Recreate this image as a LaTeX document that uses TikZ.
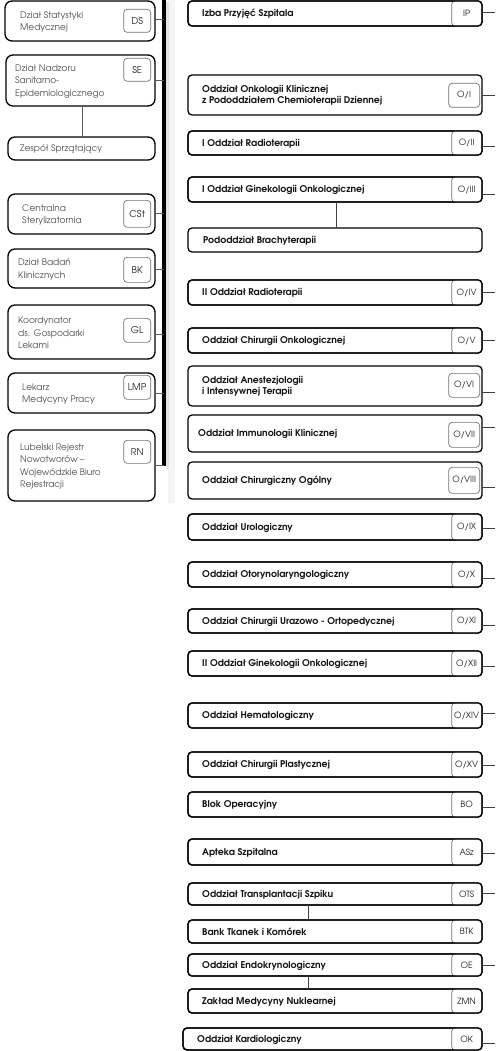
\documentclass[tikz,border=0pt]{standalone}
\usepackage{fontspec}
\setmainfont{texgyreadventor}[Extension=.otf, UprightFont=*-regular, BoldFont=*-bold, ItalicFont=*-italic, BoldItalicFont=*-bolditalic]
\newcommand\RB[7]{% name, y1, y2, text, tag, conn y, text x
  \node[rbox, minimum height={#3-#2}] (#1) at (188,#2) {};
  \node[rtag, minimum height={#3-#2}] (#1t) at (#1.east) {#5};
  \draw[rline] (#1.south west) rectangle (#1.north east);
  \node[rtext] (#1x) at (#7,{(#2+#3)/2+0.5}) {#4};
  \coordinate (#1c) at (495,#6);
  \draw[conn] (#1.east |- #1c) -- (#1c);
}
\newcommand\RBT[8]{% name, y1, y2, text, tag, tag y1, tag y2, conn y
  \node[rbox, minimum height={#3-#2}] (#1) at (188,#2) {};
  \node[rtagi, minimum height={#7-#6}] (#1t) at (480,#6) {#5};
  \node[rtext] (#1x) at (202,{(#2+#3)/2+0.5}) {#4};
  \coordinate (#1c) at (495,#8);
  \draw[conn] (#1.east |- #1c) -- (#1c);
}
\newcommand\LB[9]{% name, x1, y1, y2, text x, text, tag, tag y1, tag y2
  \node[lbox, minimum width={155-#2}, minimum height={#4-#3}] (#1) at (#2,#3) {};
  \node[ltext] (#1x) at (#5,{(#3+#4)/2+1}) {#6};
  \node[ltag, minimum height={#9-#8}] (#1t) at (151,#8) {#7};
}
\begin{document}
\begin{tikzpicture}[x=1pt,y=-1pt,
  lbox/.style={draw=black, line width=1.3pt, rounded corners=7pt, fill=white, anchor=north west, outer sep=0pt, inner sep=0pt},
  ltext/.style={anchor=west, align=left, inner sep=0pt, text=black!68, font=\fontsize{9}{12.5}\selectfont},
  ltag/.style={draw=black!55, line width=0.7pt, rounded corners=3.5pt, fill=white, anchor=north east, minimum width=27pt, inner sep=0pt, text=black!85, font=\fontsize{9.4}{9}\selectfont},
  rbox/.style={draw=black, line width=1.3pt, rounded corners=4pt, fill=white, anchor=north west, minimum width=294pt, outer sep=0pt, inner sep=0pt},
  rline/.style={draw=black, line width=1.3pt, rounded corners=4pt},
  rtext/.style={anchor=west, align=left, inner sep=0pt, text=black!92, font=\bfseries\fontsize{9.3}{11}\selectfont},
  rtag/.style={draw=black!55, line width=0.7pt, rounded corners=3.5pt, fill=white, anchor=east, minimum width=30pt, inner sep=0pt, text=black!88, font=\fontsize{8.6}{8}\selectfont},
  rtagi/.style={rtag, anchor=north east, minimum width=31pt},
  conn/.style={draw=black!75, line width=0.9pt},
  lconn/.style={draw=black!65, line width=0.9pt}
]
\useasboundingbox (0,0) rectangle (495,1051);
\fill[black!4] (168,0) rectangle (175,503);

% vertical bar
\coordinate (bartop) at (164,0);
\coordinate (barbot) at (164,466);
\fill[black!10] (166,2) rectangle (169,469);
\draw[line width=3.8pt] (bartop) -- (barbot);

% left column
\LB{DS}{5}{1}{41}{20}{Dział Statystyki\\Medycznej}{DS}{9}{32}
\LB{SE}{6}{55}{106}{15}{Dział Nadzoru\\Sanitarno-\\Epidemiologicznego}{SE}{58}{81}
\node[lbox, minimum width=147pt, minimum height=23pt] (ZS) at (8,137) {};
\node[ltext] (ZSx) at (20,149.5) {Zespół Sprzątający};
\LB{CSt}{8}{194}{234}{22}{Centralna\\Sterylizatornia}{CSt}{200}{227}
\LB{BK}{8}{249}{288}{18}{Dział Badań\\Klinicznych}{BK}{257}{282}
\LB{GL}{8}{305}{359}{18}{Koordynator\\ds. Gospodarki\\Lekami}{GL}{318}{342}
\LB{LMP}{8}{373}{413}{22}{Lekarz\\Medycyny Pracy}{LMP}{375}{399}
\LB{RN}{8}{430}{501}{20}{Lubelski Rejestr\\Nowotworów –\\Wojewódzkie Biuro\\Rejestracji}{RN}{440}{463}

\draw[lconn] (SE.south -| 82,0) -- (ZS.north -| 82,0);
\draw[lconn] (DS.east |- 0,19) -- (bartop |- 0,19);
\draw[lconn] (SE.east |- 0,80) -- (bartop |- 0,80);
\draw[lconn] (CSt.east |- 0,213) -- (bartop |- 0,213);
\draw[lconn] (BK.east |- 0,269) -- (bartop |- 0,269);
\draw[lconn] (GL.east |- 0,334) -- (bartop |- 0,334);
\draw[lconn] (LMP.east |- 0,393) -- (bartop |- 0,393);
\draw[lconn] (RN.east |- 0,465) -- (bartop |- 0,465);

% right column
\RB{IP}{1}{26}{Izba Przyjęć Szpitala}{IP}{12}{202}
\RBT{OI}{75}{115}{Oddział Onkologii Klinicznej\\z Pododdziałem Chemioterapii Dziennej}{O/I}{83}{107}{95}
\RB{OII}{131}{155}{I Oddział Radioterapii}{O/II}{146}{202}
\RB{OIII}{177}{202}{I Oddział Ginekologii Onkologicznej}{O/III}{194}{202}
\node[rbox, minimum height=24pt] (PB) at (188,228) {};
\node[rtext] (PBx) at (203,240.5) {Pododdział Brachyterapii};
\draw[conn] (OIII.south -| 336,0) -- (PB.north -| 336,0);
\RB{OIV}{280}{305}{II Oddział Radioterapii}{O/IV}{292}{202}
\RB{OV}{328}{353}{Oddział Chirurgii Onkologicznej}{O/V}{340}{202}
\RBT{OVI}{366}{406}{Oddział Anestezjologii\\i Intensywnej Terapii}{O/VI}{373}{397}{392}
\node[rbox, minimum height=37pt] (OVII) at (188,415) {};
\node[rtagi, minimum height=25pt] (OVIIt) at (480,422) {O/VII};
\node[rtext] (OVIIx) at (198,434) {Oddział Immunologii Klinicznej};
\coordinate (OVIIc) at (495,427);
\draw[conn] (OVII.east |- OVIIc) -- (OVIIc);
\RBT{OVIII}{462}{499}{Oddział Chirurgiczny Ogólny}{O/VIII}{467}{493}{487}
\RB{OIX}{514}{540}{Oddział Urologiczny}{O/IX}{528}{202}
\RB{OX}{562}{587}{Oddział Otorynolaryngologiczny}{O/X}{578}{202}
\RB{OXI}{609}{633}{Oddział Chirurgii Urazowo - Ortopedycznej}{O/XI}{625}{202}
\RB{OXII}{651}{676}{II Oddział Ginekologii Onkologicznej}{O/XII}{666}{202}
\RB{OXIV}{703}{728}{Oddział Hematologiczny}{O/XIV}{713}{202}
\RB{OXV}{752}{777}{Oddział Chirurgii Plastycznej}{O/XV}{765}{202}
\RB{BO}{792}{817}{Blok Operacyjny}{BO}{807}{202}
\RB{ASz}{839}{865}{Apteka Szpitalna}{ASz}{853}{202}
\RB{OTS}{883}{905}{Oddział Transplantacji Szpiku}{OTS}{893}{202}
% BTK (no outer connector)
\node[rbox, minimum height=23pt] (BTK) at (188,920) {};
\node[rtag, minimum height=23pt] (BTKt) at (BTK.east) {BTK};
\draw[rline] (BTK.south west) rectangle (BTK.north east);
\node[rtext] (BTKx) at (202,932) {Bank Tkanek i Komórek};
\draw[conn] (OTS.south -| 308,0) -- (BTK.north -| 308,0);
\RB{OE}{954}{976}{Oddział Endokrynologiczny}{OE}{965}{202}
\node[rbox, minimum height=24pt] (ZMN) at (188,989) {};
\node[rtag, minimum height=24pt] (ZMNt) at (ZMN.east) {ZMN};
\draw[rline] (ZMN.south west) rectangle (ZMN.north east);
\node[rtext] (ZMNx) at (202,1001.5) {Zakład Medycyny Nuklearnej};
\draw[conn] (OE.south -| 308,0) -- (ZMN.north -| 308,0);
% OK
\node[rbox, minimum width=299pt, minimum height=22pt] (OK) at (183,1028) {};
\node[rtag, minimum height=22pt] (OKt) at (OK.east) {OK};
\draw[rline] (OK.south west) rectangle (OK.north east);
\node[rtext] (OKx) at (197,1039.5) {Oddział Kardiologiczny};
\coordinate (OKc) at (495,1043);
\draw[conn] (OK.east |- OKc) -- (OKc);
\end{tikzpicture}
\end{document}
